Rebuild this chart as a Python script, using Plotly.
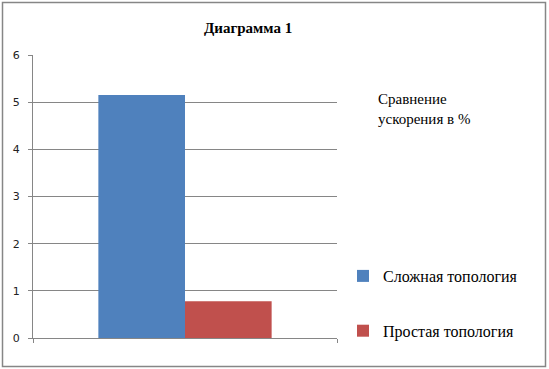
import plotly.graph_objects as go

categories = [""]
series_names = ["Сложная топология", "Простая топология"]
series_values = [[5.15], [0.78]]
series_colors = ["#4F81BD", "#C0504D"]
y_ticks = [0, 1, 2, 3, 4, 5, 6]

W, H = 549, 369
L, R, T, B = 33, 212, 55, 31
PW, PH = W - L - R, H - T - B

def px(x):
    return (x - L) / PW

def py(y):
    return (H - B - y) / PH

fig = go.Figure()
for name, vals, col in zip(series_names, series_values, series_colors):
    fig.add_trace(go.Bar(x=categories, y=vals, name=name, marker_color=col,
                         marker_line_width=0, legendgroup=name))

axis_col = "#868686"
fig.update_layout(
    width=W, height=H,
    margin=dict(l=L, r=R, t=T, b=B, pad=0),
    paper_bgcolor="white", plot_bgcolor="white",
    barmode="group", bargap=0.43, bargroupgap=0,
    showlegend=True,
    legend=dict(x=px(343), y=py(259), xanchor="left", yanchor="top",
                font=dict(family="Liberation Serif", size=16, color="black"),
                tracegroupgap=31, bgcolor="rgba(0,0,0,0)",
                traceorder="grouped", itemwidth=30),
    xaxis=dict(showticklabels=False, ticks="outside", tickson="boundaries",
               ticklen=4, tickcolor=axis_col, showline=True, linecolor=axis_col,
               showgrid=False, zeroline=False),
    yaxis=dict(range=[0, 6], tickvals=y_ticks, ticks="outside", ticklen=4,
               tickcolor=axis_col, showline=True, linecolor=axis_col,
               gridcolor=axis_col, gridwidth=1, zeroline=False,
               ticklabelstandoff=6,
               tickfont=dict(family="DejaVu Sans", size=11, color="#222")),
    font=dict(family="Liberation Serif"),
)

fig.add_annotation(text="<b>Диаграмма 1</b>", xref="paper", yref="paper",
                   x=px(248), y=py(28), xanchor="center", yanchor="middle",
                   showarrow=False,
                   font=dict(family="Liberation Serif", size=15, color="black"))
fig.add_annotation(text="Сравнение<br>ускорения в %", xref="paper", yref="paper",
                   x=px(376), y=py(89), xanchor="left", yanchor="top", align="left",
                   showarrow=False,
                   font=dict(family="Liberation Serif", size=15, color="black"))

fig.add_shape(type="rect", xref="paper", yref="paper",
              x0=px(2.5), x1=px(545.5), y0=py(366.5), y1=py(2.5),
              line=dict(color=axis_col, width=1.5), layer="above")

fig.write_html("out.html", config={"displayModeBar": False},
               post_script="document.body.style.margin='0';document.body.style.overflow='hidden';")
